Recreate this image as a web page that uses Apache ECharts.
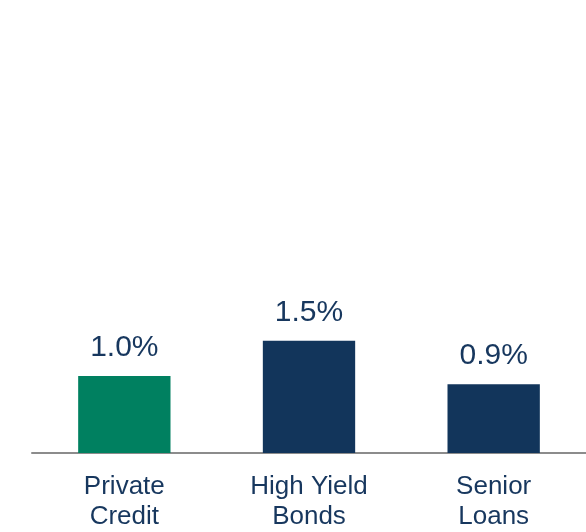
<!DOCTYPE html>
<html>
<head>
<meta charset="utf-8">
<style>html,body{margin:0;padding:0;background:#fff;}#c{width:586px;height:532px;}</style>
<script src="https://cdn.jsdelivr.net/npm/echarts@6/dist/echarts.min.js"></script>
</head>
<body>
<div id="c"></div>
<script>
var categories = ['Private\nCredit', 'High Yield\nBonds', 'Senior\nLoans'];
var values = [1.03, 1.5, 0.92];
var barColors = ['#008060', '#12355B', '#12355B'];

var chart = echarts.init(document.getElementById('c'));
chart.setOption({
  animation: false,
  grid: {left: 32, right: -1, top: 79, bottom: 76, containLabel: false},
  xAxis: {
    type: 'category',
    data: categories,
    axisLine: {show: true, lineStyle: {color: '#8c8c8c', width: 2}},
    axisTick: {show: false},
    axisLabel: {
      color: '#17375E', fontFamily: 'Liberation Sans, Arial, sans-serif',
      fontSize: 26, lineHeight: 30, margin: 19, interval: 0
    }
  },
  yAxis: {
    type: 'value', min: 0, max: 5,
    show: false, splitLine: {show: false}
  },
  series: [{
    type: 'bar',
    barWidth: '50%',
    data: values.map(function (v, i) { return {value: v, itemStyle: {color: barColors[i]}}; }),
    label: {
      show: true, position: 'top', distance: 13,
      color: '#17375E', fontFamily: 'Liberation Sans, Arial, sans-serif',
      fontSize: 30, lineHeight: 30,
      formatter: function (p) { return p.value.toFixed(1) + '%'; }
    }
  }]
});
</script>
</body>
</html>
